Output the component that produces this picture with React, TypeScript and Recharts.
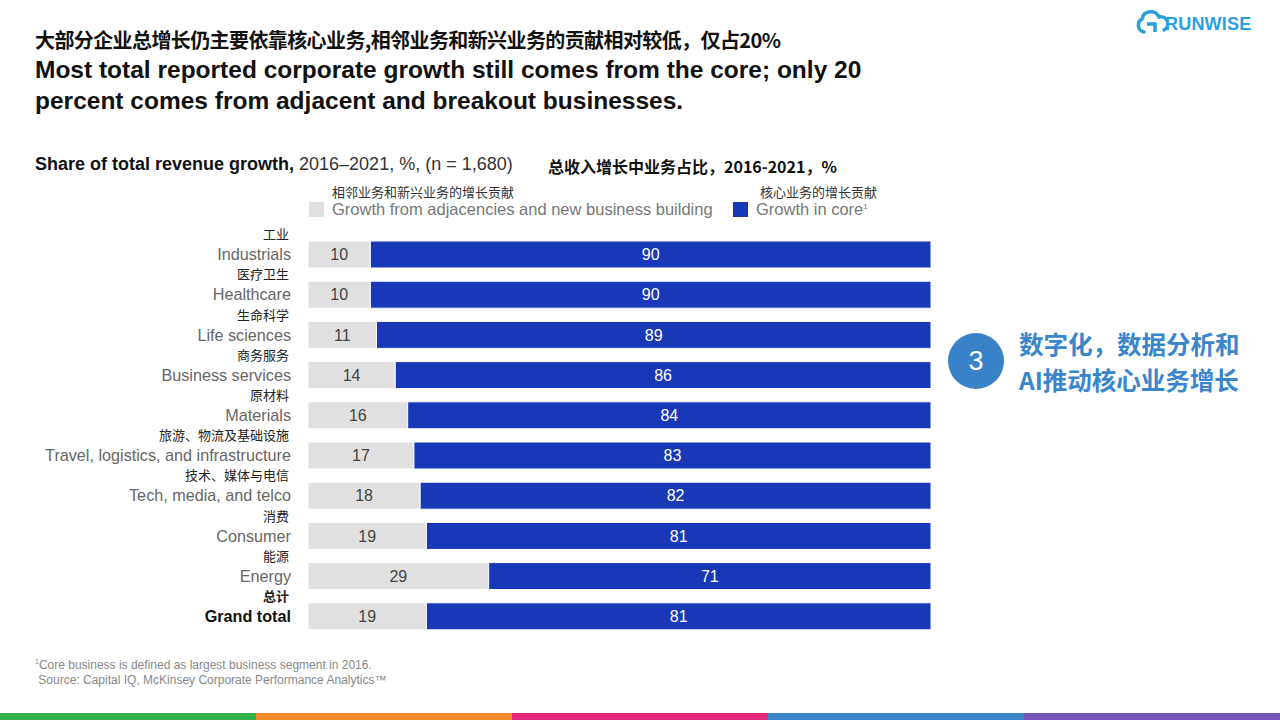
import React from 'react';
import { BarChart, Bar, XAxis, YAxis, LabelList } from 'recharts';

const sectors = [
  'Industrials',
  'Healthcare',
  'Life sciences',
  'Business services',
  'Materials',
  'Travel, logistics, and infrastructure',
  'Tech, media, and telco',
  'Consumer',
  'Energy',
  'Grand total',
];
const sectorsCn = ['工业', '医疗卫生', '生命科学', '商务服务', '原材料', '旅游、物流及基础设施', '技术、媒体与电信', '消费', '能源', '总计'];
const adjacentShare = [10, 10, 11, 14, 16, 17, 18, 19, 29, 19];
const coreShare = [90, 90, 89, 86, 84, 83, 82, 81, 71, 81];

const GRAY = '#e0e0e0';
const BLUE = '#1838b8';
const SANS = '"Liberation Sans", Arial, "Noto Sans CJK SC", sans-serif';
const CJK = '"Noto Sans CJK SC", "Liberation Sans", sans-serif';
const bands = ['#35b04a', '#f08a2c', '#e5287a', '#3a87c8', '#7356b8'];

const rows = sectors.map((name, i) => ({
  name,
  cn: sectorsCn[i],
  adj: adjacentShare[i],
  core: coreShare[i],
}));

function SectorTick(props: any) {
  const { y, payload, index } = props;
  const total = payload.value === 'Grand total';
  return (
    <g>
      <text x={289} y={y - 15} textAnchor="end" fontSize={13} fill="#222" fontFamily={CJK} fontWeight={total ? 700 : 400}>
        {sectorsCn[index]}
      </text>
      <text x={291} y={y + 6} textAnchor="end" fontSize={16.2} fill={total ? '#111' : '#666'} fontFamily={SANS} fontWeight={total ? 700 : 400}>
        {payload.value}
      </text>
    </g>
  );
}

export default function App() {
  return (
    <div style={{ position: 'absolute', left: 0, top: 0, width: 1280, height: 720, background: '#fff', overflow: 'hidden', fontFamily: SANS }}>
      <div style={{ position: 'absolute', left: 35, top: 29, fontFamily: CJK, fontWeight: 700, fontSize: 20, lineHeight: '22px', color: '#111', letterSpacing: -0.6, whiteSpace: 'nowrap' }}>
        大部分企业总增长仍主要依靠核心业务,相邻业务和新兴业务的贡献相对较低，仅占20%
      </div>
      <div style={{ position: 'absolute', left: 35, top: 54, width: 900, fontWeight: 700, fontSize: 24.5, lineHeight: '31px', color: '#111' }}>
        Most total reported corporate growth still comes from the core; only 20
        <br />
        percent comes from adjacent and breakout businesses.
      </div>

      <div style={{ position: 'absolute', left: 35, top: 154, fontSize: 18, color: '#111', whiteSpace: 'nowrap' }}>
        <span style={{ fontWeight: 700 }}>Share of total revenue growth,</span>
        <span style={{ color: '#333' }}> 2016–2021, %, (n = 1,680)</span>
      </div>
      <div style={{ position: 'absolute', left: 548, top: 154, fontFamily: CJK, fontWeight: 700, fontSize: 16, color: '#111', whiteSpace: 'nowrap' }}>
        总收入增长中业务占比，2016-2021，%
      </div>

      <div style={{ position: 'absolute', left: 332, top: 185, fontFamily: CJK, fontSize: 13, lineHeight: '14px', color: '#333' }}>相邻业务和新兴业务的增长贡献</div>
      <div style={{ position: 'absolute', left: 309, top: 202, width: 15, height: 15, background: GRAY }} />
      <div style={{ position: 'absolute', left: 332, top: 201, fontSize: 16.5, lineHeight: '17px', color: '#777', whiteSpace: 'nowrap' }}>
        Growth from adjacencies and new business building
      </div>
      <div style={{ position: 'absolute', left: 760, top: 185, fontFamily: CJK, fontSize: 13, lineHeight: '14px', color: '#333' }}>核心业务的增长贡献</div>
      <div style={{ position: 'absolute', left: 733, top: 202, width: 15, height: 15, background: BLUE }} />
      <div style={{ position: 'absolute', left: 756, top: 201, fontSize: 16.5, lineHeight: '17px', color: '#777', whiteSpace: 'nowrap' }}>
        Growth in core<sup style={{ fontSize: 8, lineHeight: 0 }}>1</sup>
      </div>

      <div style={{ position: 'absolute', left: 0, top: 0 }}>
        <BarChart
          width={1280}
          height={720}
          data={rows}
          layout="vertical"
          margin={{ top: 234, right: 349, bottom: 84, left: 0 }}
          barSize={27}
        >
          <XAxis type="number" domain={[0, 100]} hide />
          <YAxis type="category" dataKey="name" width={308} axisLine={false} tickLine={false} tick={<SectorTick />} interval={0} />
          <Bar dataKey="adj" stackId="s" fill={GRAY} stroke="#fff" strokeWidth={1} isAnimationActive={false}>
            <LabelList dataKey="adj" position="center" fill="#444" fontSize={16} fontFamily={SANS} />
          </Bar>
          <Bar dataKey="core" stackId="s" fill={BLUE} stroke="#fff" strokeWidth={1} isAnimationActive={false}>
            <LabelList dataKey="core" position="center" fill="#fff" fontSize={16} fontFamily={SANS} />
          </Bar>
        </BarChart>
      </div>

      <div style={{ position: 'absolute', left: 948, top: 333, width: 56, height: 56, borderRadius: 28, background: '#3a82c8', color: '#fff', fontSize: 27, lineHeight: '56px', textAlign: 'center', fontFamily: SANS }}>
        3
      </div>
      <div style={{ position: 'absolute', left: 1019, top: 330, fontFamily: CJK, fontWeight: 700, fontSize: 24.5, lineHeight: '27px', color: '#3a86cc', whiteSpace: 'nowrap' }}>
        数字化，数据分析和
      </div>
      <div style={{ position: 'absolute', left: 1019, top: 366, fontFamily: CJK, fontWeight: 700, fontSize: 24.5, lineHeight: '27px', color: '#3a86cc', whiteSpace: 'nowrap' }}>
        AI推动核心业务增长
      </div>

      <svg style={{ position: 'absolute', left: 1136, top: 10 }} width={32} height={28} viewBox="0 0 32 28">
        <path d="M8 22 A7 7 0 0 1 6 9 A9 9 0 0 1 23 7 A7 7 0 0 1 28 20" fill="none" stroke="#2a9fe0" strokeWidth={3.5} strokeLinecap="round" />
        <path d="M11 14 L19 14 L19 22" fill="none" stroke="#2a9fe0" strokeWidth={3.5} />
      </svg>
      <div style={{ position: 'absolute', left: 1165, top: 14, fontWeight: 700, fontSize: 18, color: '#2a9fe0', letterSpacing: 0.2 }}>RUNWISE</div>

      <div style={{ position: 'absolute', left: 35, top: 658, fontSize: 12, color: '#888', lineHeight: '15px', whiteSpace: 'nowrap' }}>
        <sup style={{ fontSize: 7, lineHeight: 0 }}>1</sup>Core business is defined as largest business segment in 2016.
        <br />
        &nbsp;Source: Capital IQ, McKinsey Corporate Performance Analytics™
      </div>

      {bands.map((c, i) => (
        <div key={c} style={{ position: 'absolute', left: i * 256, top: 713, width: 256, height: 7, background: c }} />
      ))}
    </div>
  );
}
